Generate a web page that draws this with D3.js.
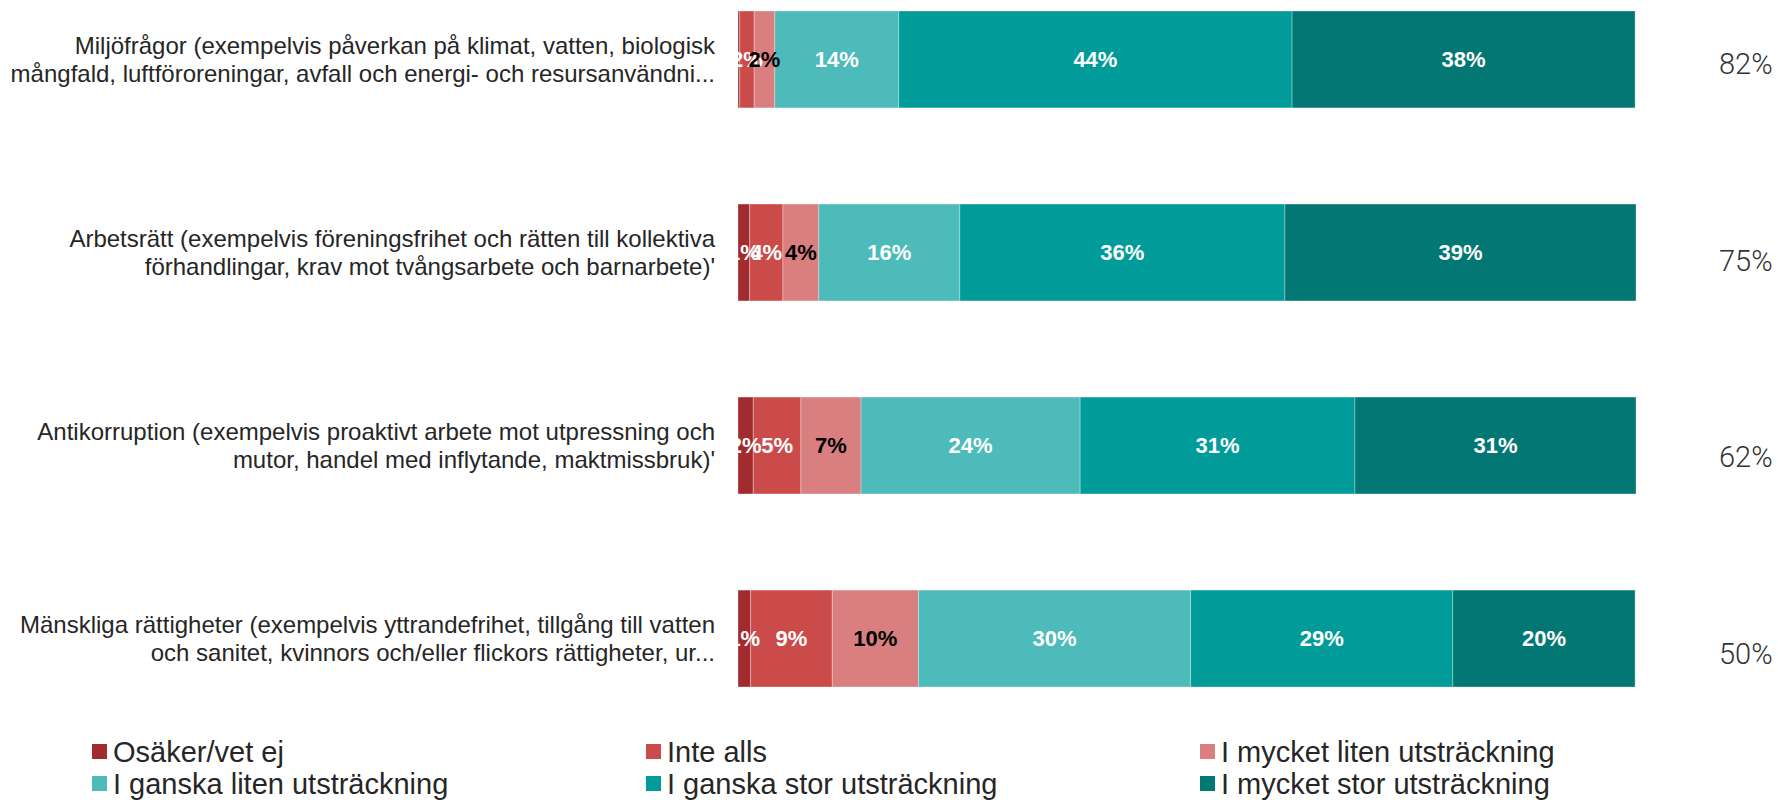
<!DOCTYPE html>
<html>
<head>
<meta charset="utf-8">
<script src="https://cdn.jsdelivr.net/npm/d3@7"></script>
<style>
html,body{margin:0;padding:0;background:#fff;}
svg{display:block;}
</style>
</head>
<body>
<svg id="chart" width="1778" height="800"></svg>
<script>
// ---- data ----
const categories = [
  ["Miljöfrågor (exempelvis påverkan på klimat, vatten, biologisk", "mångfald, luftföroreningar, avfall och energi- och resursanvändni..."],
  ["Arbetsrätt (exempelvis föreningsfrihet och rätten till kollektiva", "förhandlingar, krav mot tvångsarbete och barnarbete)'"],
  ["Antikorruption (exempelvis proaktivt arbete mot utpressning och", "mutor, handel med inflytande, maktmissbruk)'"],
  ["Mänskliga rättigheter (exempelvis yttrandefrihet, tillgång till vatten", "och sanitet, kvinnors och/eller flickors rättigheter, ur..."]
];
const seriesNames = ["Osäker/vet ej", "Inte alls", "I mycket liten utsträckning",
  "I ganska liten utsträckning", "I ganska stor utsträckning", "I mycket stor utsträckning"];
const osaker      = [0.2, 1.3, 1.7, 1.4];
const inteAlls    = [1.6, 3.7, 5.3, 9.1];
const mycketLiten = [2.3, 4.0, 6.7, 9.6];
const ganskaLiten = [13.8, 15.7, 24.4, 30.3];
const ganskaStor  = [43.8, 36.2, 30.6, 29.2];
const mycketStor  = [38.2, 39.1, 31.3, 20.3];
const totals      = [82, 75, 62, 50];
const colors = ["#a22b2d", "#cb4b4b", "#da7f80", "#4cbbb9", "#019c9a", "#037773"];
const labelColors = ["#fff", "#fff", "#000", "#fff", "#fff", "#fff"];

const seriesValues = [osaker, inteAlls, mycketLiten, ganskaLiten, ganskaStor, mycketStor];
const rows = categories.map((c, i) => {
  const o = {key: i};
  seriesNames.forEach((s, j) => o[s] = seriesValues[j][i]);
  return o;
});

const svg = d3.select("#chart");
const x = d3.scaleLinear().domain([0, 100]).range([738, 1636]);
const y = d3.scaleBand().domain(d3.range(categories.length)).range([11, 687]).paddingInner(0.498).paddingOuter(0);
const yTot = d3.scalePoint().domain(d3.range(categories.length)).range([63.8, 654]);
const color = d3.scaleOrdinal().domain(seriesNames).range(colors);

const stacked = d3.stack().keys(seriesNames)(rows);

// bars
const g = svg.append("g");
stacked.forEach((layer, j) => {
  g.selectAll(null).data(layer).enter().append("rect")
    .attr("x", d => x(d[0]))
    .attr("y", (d, i) => y(i))
    .attr("width", d => x(d[1]) - x(d[0]))
    .attr("height", y.bandwidth())
    .attr("fill", color(layer.key))
    .attr("stroke", "#ffffff")
    .attr("stroke-opacity", 0.3)
    .attr("stroke-width", 1);
});

// bar labels
const lg = svg.append("g");
stacked.forEach((layer, j) => {
  lg.selectAll(null).data(layer.filter(d => Math.round(d[1] - d[0]) >= 1)).enter().append("text")
    .attr("x", d => x((d[0] + d[1]) / 2))
    .attr("y", d => y(d.data.key) + y.bandwidth() / 2)
    .attr("text-anchor", "middle")
    .attr("dominant-baseline", "central")
    .attr("font-family", "'Liberation Sans', Arial, sans-serif")
    .attr("font-weight", "bold")
    .attr("font-size", 22)
    .attr("fill", labelColors[j])
    .text(d => Math.round(d[1] - d[0]) + "%");
});

// category labels
const cg = svg.append("g");
categories.forEach((lines, i) => {
  const cy = y(i) + y.bandwidth() / 2;
  const t = cg.append("text")
    .attr("x", 715)
    .attr("y", cy)
    .attr("text-anchor", "end")
    .attr("font-family", "'Liberation Sans', Arial, sans-serif")
    .attr("font-size", 24)
    .attr("fill", "#262626");
  lines.forEach((ln, k) => {
    t.append("tspan").attr("x", 715)
      .attr("y", cy + (k - (lines.length - 1) / 2) * 27.5)
      .attr("dominant-baseline", "central")
      .text(ln);
  });
});

// totals on right
svg.append("g").selectAll("text").data(totals).enter().append("text")
  .attr("x", 1719)
  .attr("y", (d, i) => yTot(i))
  .attr("dominant-baseline", "central")
  .attr("font-family", "Roboto, sans-serif")
  .attr("font-weight", 300)
  .attr("font-size", 29)
  .attr("fill", "#333")
  .text(d => d + "%");

// legend
const legX = d3.scalePoint().domain([0, 1, 2]).range([92, 1200]);
const legY = d3.scalePoint().domain([0, 1]).range([751.5, 783.5]);
const leg = svg.append("g").selectAll("g").data(seriesNames).enter().append("g")
  .attr("transform", (d, i) => `translate(${legX(i % 3)},${legY(Math.floor(i / 3))})`);
leg.append("rect").attr("x", 0).attr("y", -7.5).attr("width", 15).attr("height", 15)
  .attr("fill", d => color(d));
leg.append("text").attr("x", 21).attr("y", 0)
  .attr("dominant-baseline", "central")
  .attr("font-family", "'Liberation Sans', Arial, sans-serif")
  .attr("font-size", 29)
  .attr("fill", "#262626")
  .text(d => d);
</script>
</body>
</html>
